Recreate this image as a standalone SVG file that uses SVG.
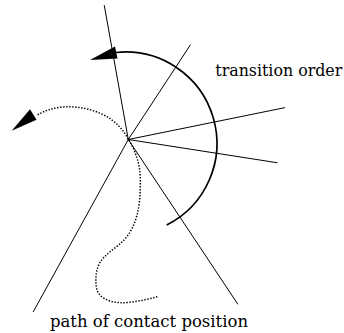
<svg xmlns="http://www.w3.org/2000/svg" width="344" height="333" viewBox="0 0 344 333">
<style>
.ray{stroke:#000;stroke-width:1;fill:none;stroke-linecap:round}
.arc{stroke:#000;stroke-width:1.7;fill:none}
.dot{stroke:#000;stroke-width:1.5;fill:none;stroke-dasharray:1.4 1.6}
.head{fill:#000;stroke:none}
.lbl{font-family:'DejaVu Serif','Liberation Serif',serif;font-size:16px;fill:#000}
</style>
<rect width="344" height="333" fill="#fff"/>
<g id="connectors">
<g id="rays">
<line class="ray" x1="128.3" y1="139.5" x2="104.3" y2="5.5"/>
<line class="ray" x1="128.3" y1="139.5" x2="190.3" y2="45"/>
<line class="ray" x1="128.3" y1="139.5" x2="284.7" y2="107.7"/>
<line class="ray" x1="128.3" y1="139.5" x2="277" y2="162.7"/>
<line class="ray" x1="128.3" y1="139.5" x2="237.7" y2="304"/>
<line class="ray" x1="128.3" y1="139.5" x2="33.3" y2="311.7"/>
</g>
<g id="transition-arc">
<path class="arc" d="M166.7,225 A91.4,91.4 0 0 0 116,52.5"/>
<polygon class="head" points="90,60 115,46.5 117.5,58.5"/>
</g>
<g id="contact-path">
<path class="dot" d="M157.3,296.7 C146,300 130,303 120,302.7 C108,302 98,297 96.5,288 C95,278 96,268 101,261 C106,254 114,249 121,243 C130,235 137,222 139.3,203 C141,185 141,170 137,158 C134,149 131,143 128.3,139.5 C124,131 116,120 100,113.3 C88,108 74,106 62,107 C52,108 44,111 36.7,115.5"/>
<polygon class="head" points="11.7,130.7 30,109.3 36.5,119.8"/>
</g>
</g>
<g id="label-transition-order">
<text class="lbl" x="215.3" y="76" textLength="127" lengthAdjust="spacingAndGlyphs">transition order</text>
</g>
<g id="label-path">
<text class="lbl" x="50" y="326.5" textLength="198" lengthAdjust="spacingAndGlyphs">path of contact position</text>
</g>
</svg>
